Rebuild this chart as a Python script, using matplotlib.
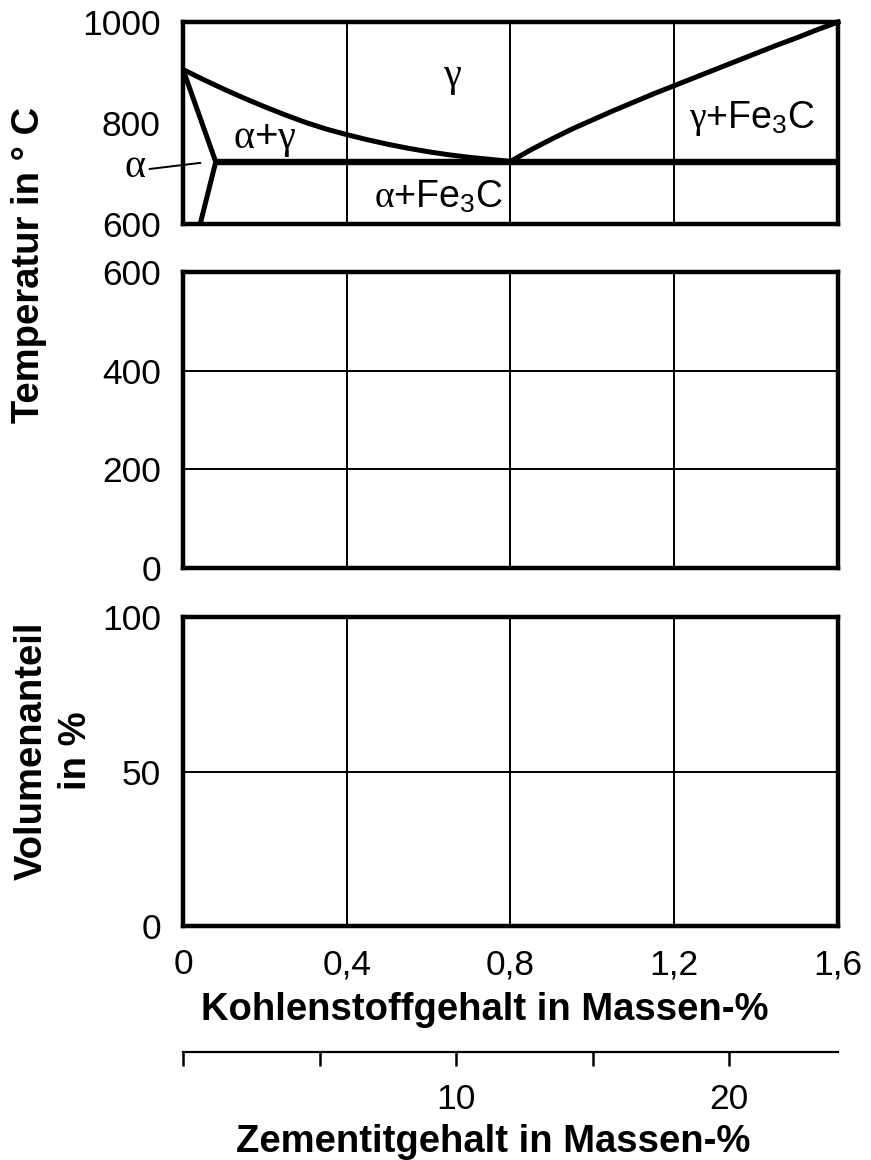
import numpy as np
import matplotlib
matplotlib.use("Agg")
import matplotlib.pyplot as plt

plt.rcParams['font.family'] = ['Liberation Sans', 'DejaVu Sans']
plt.rcParams['mathtext.fontset'] = 'custom'
plt.rcParams['mathtext.rm'] = 'Liberation Sans'
plt.rcParams['mathtext.it'] = 'Liberation Serif'

# phase boundaries (carbon wt%, temperature degC)
a3_c = [0, 0.05, 0.1, 0.15, 0.2, 0.25, 0.3, 0.35, 0.4, 0.45, 0.5,
        0.55, 0.6, 0.65, 0.7, 0.75, 0.8]
a3_t = [906, 886, 867, 849, 832, 816, 801, 788, 777, 767, 758,
        750, 743, 737, 732, 728, 724]
acm_c = [0.8, 0.85, 0.9, 0.95, 1.0, 1.05, 1.1, 1.15, 1.2, 1.25, 1.3,
         1.35, 1.4, 1.45, 1.5, 1.55, 1.6]
acm_t = [724, 747, 768, 788, 806, 824, 841, 858, 874, 890, 906,
         922, 938, 954, 969, 985, 1000]
alpha_c = [0, 0.08, 0.042]
alpha_t = [906, 723, 600]
eut_c = [0.08, 1.6]
eut_t = [723, 723]

x_ticks = [0, 0.4, 0.8, 1.2, 1.6]
x_labels = ['0', '0,4', '0,8', '1,2', '1,6']
t_top_ticks = [600, 800, 1000]
t_mid_ticks = [0, 200, 400, 600]
vol_ticks = [0, 50, 100]
cem_ticks = [0, 5, 10, 15, 20]
cem_labels = ['', '', '10', '', '20']
c_fe3c = 6.67  # carbon content of cementite

fig = plt.figure(figsize=(8.71, 11.6), dpi=100)
L, W = 0.2101, 0.752
ax1 = fig.add_axes([L, 0.8069, W, 0.1741])
ax2 = fig.add_axes([L, 0.5103, W, 0.2552])
ax3 = fig.add_axes([L, 0.2017, W, 0.2664])
ax4 = fig.add_axes([L, 0.0931, W, 0.0001])

TS = 25.5  # tick label size
BS = 27.5  # bold label size

def frame(ax, yticks, ylim):
    ax.set_xlim(0, 1.6)
    ax.set_ylim(*ylim)
    ax.set_yticks(yticks)
    ax.set_xticks(x_ticks)
    for s in ax.spines.values():
        s.set_linewidth(3.2)
    ax.tick_params(length=0, labelsize=TS, pad=16)
    ax.set_xticklabels([])
    for xv in x_ticks[1:-1]:
        ax.axvline(xv, color='k', lw=1.4, zorder=1)

frame(ax1, t_top_ticks, (600, 1000))
frame(ax2, t_mid_ticks, (0, 600))
frame(ax3, vol_ticks, (0, 100))
for yv in t_mid_ticks[1:-1]:
    ax2.axhline(yv, color='k', lw=1.4, zorder=1)
ax3.axhline(50, color='k', lw=1.4, zorder=1)

ax3.set_xticklabels(x_labels)
ax3.tick_params(axis='x', pad=16)
ax3.set_xlabel('Kohlenstoffgehalt in Massen-%', fontsize=BS, fontweight='bold', labelpad=8)
ax3.xaxis.label.set_x(0.461)

# Fe-C diagram lines
lw = 3.6
ax1.plot(a3_c, a3_t, color='k', lw=lw, solid_capstyle='butt', clip_on=False)
ax1.plot(acm_c, acm_t, color='k', lw=lw, clip_on=False)
ax1.plot(alpha_c, alpha_t, color='k', lw=lw, solid_joinstyle='miter')
ax1.plot(eut_c, eut_t, color='k', lw=4.6, solid_capstyle='butt')

GS = 29
ax1.text(0.657, 889, r'$\gamma$', fontsize=GS, ha='center', va='center')
ax1.text(0.2, 750, r'$\alpha$+$\gamma$', fontsize=GS, ha='center', va='baseline')
ax1.text(0.623, 632, r'$\alpha$+Fe$_3$C', fontsize=27, ha='center', va='baseline')
ax1.text(1.39, 790, r'$\gamma$+Fe$_3$C', fontsize=27, ha='center', va='baseline')
ax1.text(-0.117, 693, r'$\alpha$', fontsize=GS, ha='center', va='baseline', clip_on=False)
ax1.plot([-0.081, 0.042], [709, 721], color='k', lw=1.4, clip_on=False)

# cementite scale
ax4.set_xlim(0, 1.6)
for s in ['left', 'right', 'top']:
    ax4.spines[s].set_visible(False)
ax4.spines['bottom'].set_linewidth(1.6)
ax4.set_yticks([])
ax4.set_xticks([c * c_fe3c / 100 for c in cem_ticks])
ax4.set_xticklabels(cem_labels)
ax4.tick_params(axis='x', direction='out', length=10, width=1.8, labelsize=TS, pad=12)
ax4.set_xlabel('Zementitgehalt in Massen-%', fontsize=BS, fontweight='bold', labelpad=6)
ax4.xaxis.label.set_x(0.473)

fig.text(29 / 871, 1 - 265 / 1160, 'Temperatur in ° C', rotation=90, fontsize=BS,
         fontweight='bold', ha='center', va='center')
fig.text(54 / 871, 1 - 751 / 1160, 'Volumenanteil\nin %', rotation=90, fontsize=BS,
         fontweight='bold', ha='center', va='center', linespacing=1.3, multialignment='center')

fig.savefig('out.png', dpi=100, facecolor='white')
